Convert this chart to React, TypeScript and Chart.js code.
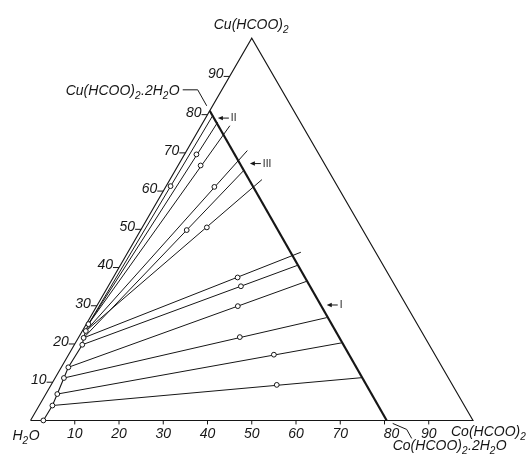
import { useEffect, useRef } from "react";
import { Chart, registerables } from "chart.js";

Chart.register(...registerables);

// Ternary composition in mass %: co = Co(HCOO)2, cu = Cu(HCOO)2, rest = H2O
const tickValues = [10, 20, 30, 40, 50, 60, 70, 80, 90];

const frameCo = [0, 100, 0, 0];
const frameCu = [0, 0, 100, 0];

// join of the two dihydrates (solid solutions)
const dihydrateCo = [0, 80.5];
const dihydrateCu = [81, 0];

// saturated solutions (solubility curve)
const liquidCo = [2.9, 3.0, 2.6, 2.0, 1.6, 1.8, 1.2, 0.8, 0.5];
const liquidCu = [0, 3.9, 6.9, 11.1, 13.9, 19.8, 21.6, 23.4, 25.2];

// tie lines: solution -> solid phase
const tieFromCo = [3.0, 2.6, 2.0, 1.6, 1.8, 1.2, 0.8, 1.2, 0.8, 0.5, 0.5, 0.5];
const tieFromCu = [3.9, 6.9, 11.1, 13.9, 19.8, 21.6, 23.4, 21.6, 23.4, 25.2, 25.2, 25.2];
const tieToCo = [69.4, 60.2, 53.5, 44.2, 40.1, 39.1, 20.8, 15.5, 13.7, 6.5, 3.3, 1.3];
const tieToCu = [11.2, 20.3, 26.9, 36.4, 40.6, 44.0, 63.0, 65.4, 70.6, 77.1, 78.0, 79.8];

// wet residues
const residueCo = [51.0, 46.4, 36.4, 31.9, 30.0, 28.1, 14.6, 10.4, 11.0, 5.1, 2.7, 1.0];
const residueCu = [9.3, 17.2, 21.8, 29.9, 35.1, 37.4, 50.5, 49.8, 61.1, 66.7, 69.6, 61.3];

// labelled tie lines (I, II, III) — Cu % of the point on the dihydrate join
const markerNames = ["I", "II", "III"];
const markerCu = [30.2, 79.1, 67.2];

const S = Math.sqrt(3) / 2;
const toXY = (co: number, cu: number) => ({ x: co + cu / 2, y: cu * S });
const onJoin = (cu: number) => toXY(dihydrateCo[1] * (1 - cu / dihydrateCu[0]), cu);

const INK = "#161616";
const FONT = "'Liberation Sans', Arial, sans-serif";

type Seg = [string, boolean];

function drawRich(ctx: CanvasRenderingContext2D, segs: Seg[], x: number, y: number) {
  let cx = x;
  for (const [t, sub] of segs) {
    ctx.font = sub ? `italic 10px ${FONT}` : `italic 14px ${FONT}`;
    ctx.fillText(t, cx, sub ? y + 4 : y);
    cx += ctx.measureText(t).width + (sub ? 0.5 : 0);
  }
}

const textPlugin = {
  id: "ternaryText",
  afterDatasetsDraw(chart: any) {
    const ctx: CanvasRenderingContext2D = chart.ctx;
    const sx = chart.scales.x;
    const sy = chart.scales.y;
    const px = (co: number, cu: number) => {
      const p = toXY(co, cu);
      return { x: sx.getPixelForValue(p.x), y: sy.getPixelForValue(p.y) };
    };
    ctx.save();
    ctx.strokeStyle = INK;
    ctx.fillStyle = INK;
    ctx.lineWidth = 1;
    ctx.textBaseline = "middle";

    // bottom axis ticks and labels
    for (const t of tickValues) {
      const p = px(t, 0);
      ctx.beginPath();
      ctx.moveTo(p.x, p.y);
      ctx.lineTo(p.x, p.y + 4);
      ctx.stroke();
      ctx.font = `italic 14px ${FONT}`;
      ctx.textAlign = "center";
      ctx.fillText(String(t), p.x + (t === 80 ? 7 : 0), p.y + 14);
    }
    // left edge ticks and labels
    for (const t of tickValues) {
      const p = px(0, t);
      ctx.beginPath();
      ctx.moveTo(p.x - 6, p.y);
      ctx.lineTo(p.x, p.y);
      ctx.stroke();
      ctx.font = `italic 14px ${FONT}`;
      ctx.textAlign = "right";
      ctx.fillText(String(t), p.x - 6, p.y - 2);
    }

    ctx.textAlign = "left";
    ctx.textBaseline = "alphabetic";
    // vertex labels
    const top = px(0, 100);
    drawRich(ctx, [["Cu(HCOO)", false], ["2", true]], top.x - 38, top.y - 9);
    const left = px(0, 0);
    drawRich(ctx, [["H", false], ["2", true], ["O", false]], left.x - 18, left.y + 20);
    const right = px(100, 0);
    drawRich(ctx, [["Co(HCOO)", false], ["2", true]], right.x - 22, right.y + 16);

    // dihydrate labels with leader lines
    const cuD = px(dihydrateCo[0], dihydrateCu[0]);
    drawRich(
      ctx,
      [["Cu(HCOO)", false], ["2", true], [".2H", false], ["2", true], ["O", false]],
      cuD.x - 144,
      cuD.y - 16
    );
    ctx.beginPath();
    ctx.moveTo(cuD.x - 27, cuD.y - 21);
    ctx.lineTo(cuD.x - 12, cuD.y - 21);
    ctx.lineTo(cuD.x - 3, cuD.y - 5);
    ctx.stroke();

    const coD = px(dihydrateCo[1], dihydrateCu[1]);
    drawRich(
      ctx,
      [["Co(HCOO)", false], ["2", true], [".2H", false], ["2", true], ["O", false]],
      coD.x + 6,
      coD.y + 30
    );
    ctx.beginPath();
    ctx.moveTo(coD.x + 6, coD.y + 3);
    ctx.lineTo(coD.x + 20, coD.y + 9);
    ctx.lineTo(coD.x + 25, coD.y + 18);
    ctx.stroke();

    // arrows I, II, III
    const gaps = [6, 4, 10];
    markerNames.forEach((name, i) => {
      const j = onJoin(markerCu[i]);
      const x = sx.getPixelForValue(j.x) + gaps[i];
      const y = sy.getPixelForValue(j.y);
      ctx.beginPath();
      ctx.moveTo(x + 3, y);
      ctx.lineTo(x + 11, y);
      ctx.stroke();
      ctx.beginPath();
      ctx.moveTo(x, y);
      ctx.lineTo(x + 5, y - 2.2);
      ctx.lineTo(x + 5, y + 2.2);
      ctx.closePath();
      ctx.fill();
      ctx.font = `10px ${FONT}`;
      ctx.textBaseline = "middle";
      ctx.fillText(name, x + 13, y + 0.5);
      ctx.textBaseline = "alphabetic";
    });
    ctx.restore();
  },
};

export default function App() {
  const ref = useRef<HTMLCanvasElement | null>(null);

  useEffect(() => {
    if (!ref.current) return;
    const lineDs = (data: { x: number; y: number }[], width: number) => ({
      type: "line" as const,
      data,
      borderColor: INK,
      borderWidth: width,
      pointRadius: 0,
      fill: false,
      tension: 0,
      showLine: true,
    });

    const ties = tieFromCo.map((_, i) =>
      lineDs([toXY(tieFromCo[i], tieFromCu[i]), toXY(tieToCo[i], tieToCu[i])], 1)
    );

    const datasets: any[] = [
      {
        type: "scatter",
        data: residueCo.map((c, i) => toXY(c, residueCu[i])),
        pointRadius: 2.4,
        pointBorderWidth: 1,
        pointBackgroundColor: "#ffffff",
        pointBorderColor: INK,
        showLine: false,
      },
      {
        type: "line",
        data: liquidCo.map((c, i) => toXY(c, liquidCu[i])),
        borderColor: INK,
        borderWidth: 1.1,
        pointRadius: 2.4,
        pointBorderWidth: 1,
        pointBackgroundColor: "#ffffff",
        pointBorderColor: INK,
        tension: 0,
        fill: false,
      },
      lineDs(dihydrateCo.map((c, i) => toXY(c, dihydrateCu[i])), 2.2),
      ...ties,
      lineDs(frameCo.map((c, i) => toXY(c, frameCu[i])), 1.1),
    ];

    const chart = new Chart(ref.current, {
      type: "scatter",
      data: { datasets },
      options: {
        animation: false,
        responsive: false,
        events: [],
        layout: { padding: 0 },
        plugins: { legend: { display: false }, tooltip: { enabled: false } },
        scales: {
          x: { type: "linear", display: false, min: -5.765, max: 111.752 },
          y: { type: "linear", display: false, min: -9.645, max: 94.124 },
        },
      },
      plugins: [textPlugin],
    });
    return () => chart.destroy();
  }, []);

  return (
    <div style={{ position: "absolute", left: 0, top: 0, width: 530, height: 468, background: "#fff" }}>
      <canvas ref={ref} width={530} height={468} style={{ display: "block" }} />
    </div>
  );
}
